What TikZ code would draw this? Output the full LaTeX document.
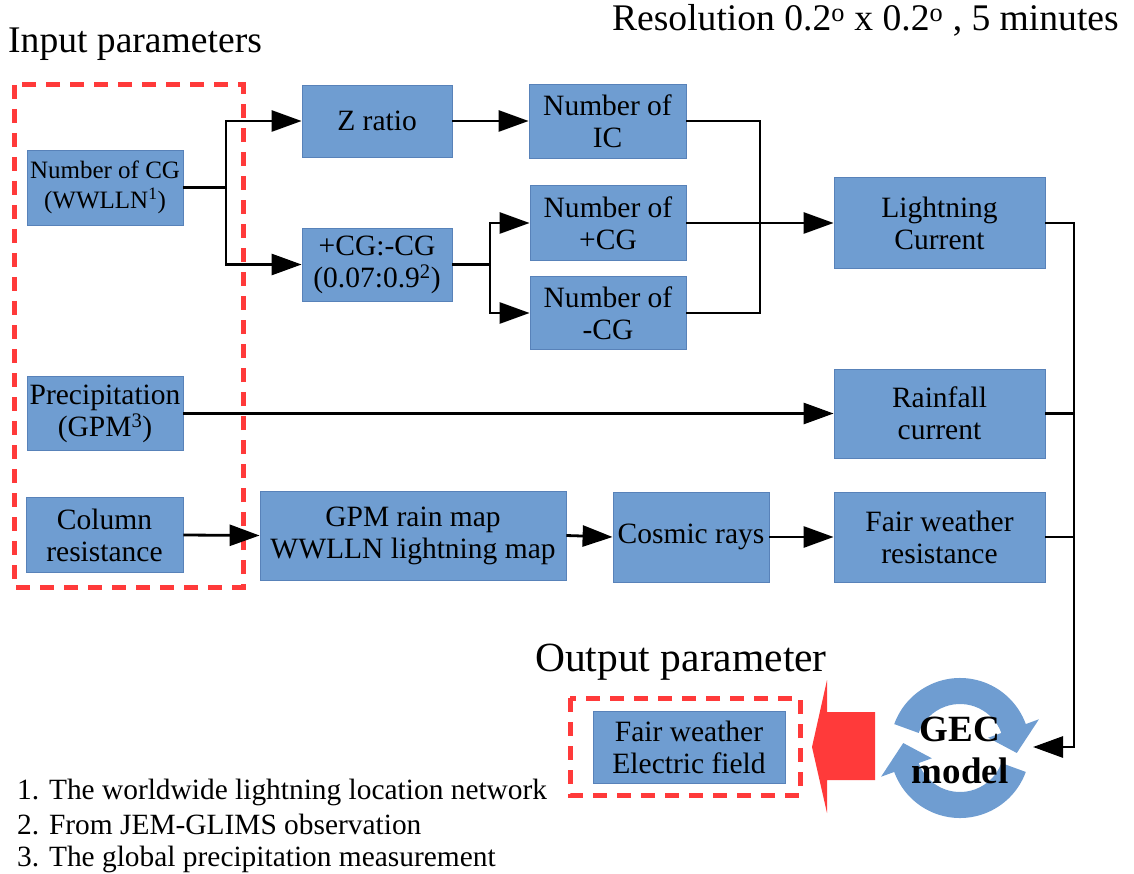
\documentclass[tikz,border=0pt]{standalone}
\usepackage{fontspec}
\setmainfont{Liberation Serif}
\usetikzlibrary{arrows.meta,calc}
\definecolor{boxblue}{RGB}{111,157,209}
\definecolor{boxedge}{RGB}{88,130,185}
\definecolor{redd}{RGB}{255,58,58}
\begin{document}
\begin{tikzpicture}[x=1pt,y=-1pt,
  box/.style={draw=boxedge,line width=0.8pt,fill=boxblue,align=center,inner sep=0pt,
    font=\fontsize{29.5}{32}\selectfont},
  conn/.style={line width=2.8pt},
  arr/.style={conn,-{Triangle[length=30pt,width=21pt]}},
  reddash/.style={draw=redd,line width=5pt,dash pattern=on 14pt off 10pt},
  title/.style={inner sep=0pt,font=\fontsize{37.6}{40}\selectfont},
  note/.style={inner sep=0pt,anchor=base west,font=\fontsize{29.4}{32}\selectfont}]
\useasboundingbox (0,0) rectangle (1134,874);

% titles
\node[title,anchor=base west] (inp) at (8,53) {Input parameters};
\node[title,anchor=base east] (res) at (1119,31) {Resolution 0.2\textsuperscript{o} x 0.2\textsuperscript{o} , 5 minutes};
\node[title,anchor=base west,font=\fontsize{41.5}{44}\selectfont] (outp) at (535,671) {Output parameter};

% dashed groups
\draw[reddash] (14,85) rectangle (243,587);
\draw[reddash] (570,698) rectangle (800,795);

% boxes
\node[box,minimum width=156pt,minimum height=75pt,font=\fontsize{25}{30}\selectfont] (cg) at (105,187.5) {Number of CG\\(WWLLN\textsuperscript{1})};
\node[box,minimum width=150pt,minimum height=72pt] (zr) at (377,121) {Z ratio};
\node[box,minimum width=157pt,minimum height=74pt] (ic) at (607.5,121) {Number of\\IC};
\node[box,minimum width=150pt,minimum height=73pt] (ratio) at (377,264.5) {+CG:-CG\\(0.07:0.9\textsuperscript{2})};
\node[box,minimum width=156pt,minimum height=75pt] (pcg) at (608,223) {Number of\\+CG};
\node[box,minimum width=156pt,minimum height=73pt] (mcg) at (608,313) {Number of\\-CG};
\node[box,minimum width=211pt,minimum height=91pt] (lc) at (939.5,223) {Lightning\\Current};
\node[box,minimum width=211pt,minimum height=89pt] (rc) at (939.5,413.5) {Rainfall\\current};
\node[box,minimum width=211pt,minimum height=90pt] (fwr) at (939.5,537) {Fair weather\\resistance};
\node[box,minimum width=156pt,minimum height=74pt] (prec) at (105,413.5) {Precipitation\\(GPM\textsuperscript{3})};
\node[box,minimum width=157pt,minimum height=75pt] (col) at (104.5,535) {Column\\resistance};
\node[box,minimum width=306pt,minimum height=89pt] (gpm) at (413,535.5) {GPM rain map\\WWLLN lightning map};
\node[box,minimum width=156pt,minimum height=90pt] (cos) at (691,537) {Cosmic rays};
\node[box,minimum width=192pt,minimum height=72pt] (fwe) at (689,747) {Fair weather\\Electric field};

% junctions
\coordinate (j1) at (226,187.5);
\coordinate (j2) at (490,264.5);
\coordinate (j3) at (760,223);
\coordinate (bus) at (1074,747);
\coordinate (gecin) at (1033,747);

% connectors
\draw[arr] (cg.east) -- (j1) |- (zr.west);
\draw[arr] (j1) |- (ratio.west);
\draw[arr] (zr.east) -- (ic.west);
\draw[arr] (ratio.east) -- (j2) |- (pcg.west);
\draw[arr] (j2) |- (mcg.west);
\draw[conn] (ic.east) -| (j3) |- (mcg.east);
\draw[arr] (pcg.east) -- (lc.west);
\draw[arr] (prec.east) -- (rc.west);
\draw[arr] (col.east) -- (gpm.west);
\draw[arr] (gpm.east) -- (cos.west);
\draw[arr] (cos.east) -- (fwr.west);
\draw[arr] (lc.east) -| (bus) -- (gecin);
\draw[conn] (rc.east) -- (rc.east -| bus);
\draw[conn] (fwr.east) -- (fwr.east -| bus);

% GEC model cycle
\coordinate (C) at (960,748);
\fill[boxblue] ($(C)+(160:70pt)$) arc[start angle=160,end angle=20,radius=70pt]
  -- ($(C)+(20:84pt)$) -- ($(C)+(-5:57pt)$) -- ($(C)+(20:30pt)$)
  -- ($(C)+(20:44pt)$) arc[start angle=20,end angle=160,radius=44pt] -- cycle;
\fill[boxblue] ($(C)+(-20:70pt)$) arc[start angle=-20,end angle=-160,radius=70pt]
  -- ($(C)+(-160:84pt)$) -- ($(C)+(-185:57pt)$) -- ($(C)+(-160:30pt)$)
  -- ($(C)+(-160:44pt)$) arc[start angle=-160,end angle=-20,radius=44pt] -- cycle;
\node[inner sep=0pt,align=center,font=\bfseries\fontsize{37}{42}\selectfont] (gec) at (960,750) {GEC\\model};

% red output arrow
\fill[redd] (875,712) -- (827,712) -- (827,680) -- (812,747) -- (827,813) -- (827,780) -- (875,780) -- cycle;

% footnotes
\node[note] (n1) at (17,799) {1. The worldwide lightning location network};
\node[note] (n2) at (17,834) {2. From JEM-GLIMS observation};
\node[note] (n3) at (17,866) {3. The global precipitation measurement};
\end{tikzpicture}
\end{document}
